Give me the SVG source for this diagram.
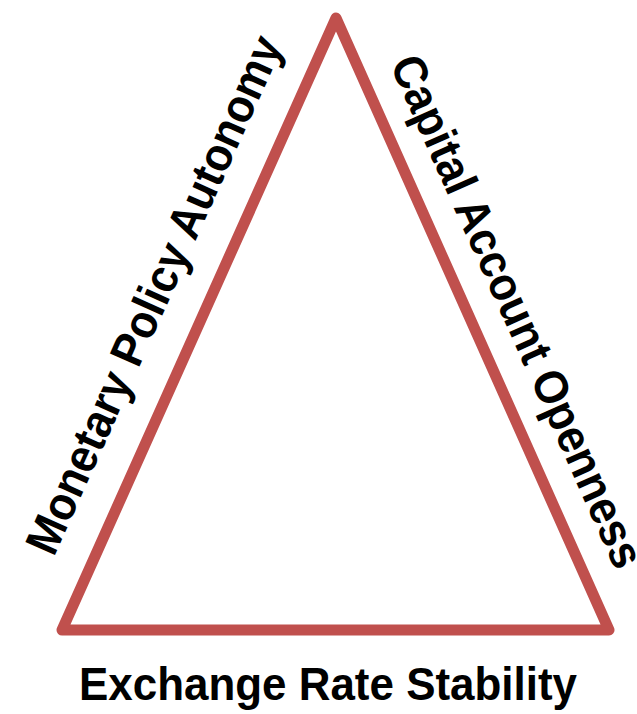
<svg xmlns="http://www.w3.org/2000/svg" width="637" height="714" viewBox="0 0 637 714">
<style>
.lbl{font-family:"Liberation Sans",Arial,sans-serif;font-weight:bold;font-size:47px;fill:#000}
.edge{fill:none;stroke:#C0504D;stroke-width:11;stroke-linejoin:round}
</style>
<rect width="637" height="714" fill="#fff"/>
<g id="connectors">
<polygon class="edge" points="336,18 609,630 62,630"/>
</g>
<g id="left-label">
<text class="lbl" transform="translate(53.8,557.7) rotate(-65.88)" textLength="562" lengthAdjust="spacingAndGlyphs">Monetary Policy Autonomy</text>
</g>
<g id="right-label">
<text class="lbl" transform="translate(389.5,63.9) rotate(65.96)" textLength="556" lengthAdjust="spacingAndGlyphs">Capital Account Openness</text>
</g>
<g id="bottom-label">
<text class="lbl" x="79" y="700" textLength="498" lengthAdjust="spacingAndGlyphs">Exchange Rate Stability</text>
</g>
</svg>
